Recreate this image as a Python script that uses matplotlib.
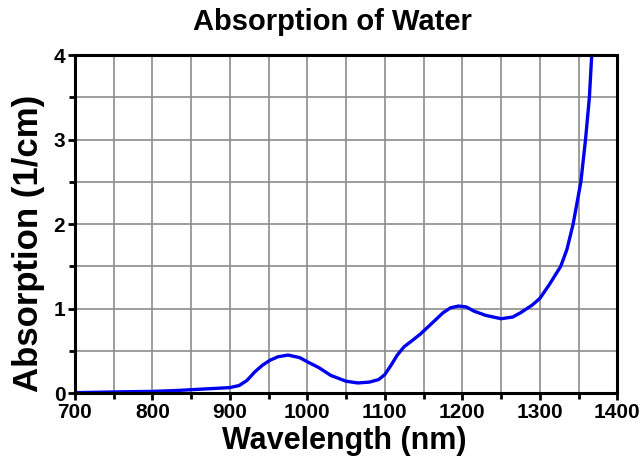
import matplotlib
matplotlib.use("Agg")
import matplotlib.pyplot as plt
from matplotlib.ticker import MultipleLocator

# absorption coefficient of water
wavelength = [700, 730, 760, 800, 830, 860, 900, 912, 922, 932, 942, 952, 962,
              975, 990, 1000, 1015, 1030, 1050, 1065, 1080, 1092, 1100, 1108,
              1116, 1125, 1135, 1146, 1160, 1175, 1185, 1195, 1205, 1215, 1230,
              1250, 1265, 1275, 1290, 1300, 1312, 1327, 1335, 1343, 1348, 1353,
              1359, 1364, 1367]
absorption = [0.005, 0.01, 0.015, 0.02, 0.03, 0.045, 0.065, 0.09, 0.15, 0.25,
              0.33, 0.39, 0.43, 0.45, 0.42, 0.37, 0.30, 0.21, 0.14, 0.12, 0.13,
              0.16, 0.22, 0.33, 0.45, 0.55, 0.62, 0.70, 0.82, 0.95, 1.01, 1.03,
              1.02, 0.97, 0.92, 0.88, 0.90, 0.95, 1.04, 1.12, 1.28, 1.5, 1.7,
              2.0, 2.25, 2.5, 3.0, 3.5, 4.0]

plt.rcParams['font.family'] = ['Liberation Sans', 'DejaVu Sans']
plt.rcParams['font.weight'] = 'bold'
plt.rcParams['xtick.labelsize'] = 15
plt.rcParams['ytick.labelsize'] = 15

fig = plt.figure(figsize=(6.41, 4.63), dpi=100)
ax = fig.add_axes([0.117, 0.151, 0.846, 0.730])

ax.plot(wavelength, absorption, color='#0000ee', lw=2.4, solid_capstyle='round')

ax.set_xlim(700, 1400)
ax.set_ylim(0, 4)
ax.xaxis.set_major_locator(MultipleLocator(100))
ax.xaxis.set_minor_locator(MultipleLocator(50))
ax.yaxis.set_major_locator(MultipleLocator(1))
ax.yaxis.set_minor_locator(MultipleLocator(0.5))
ax.grid(which='both', color='#8c8c8c', lw=1.2)
ax.set_axisbelow(True)

for sp in ax.spines.values():
    sp.set_linewidth(2.2)
ax.tick_params(which='major', direction='out', length=5, width=2, pad=2)
ax.tick_params(which='minor', direction='out', length=4, width=2)

fig.text(0.519, 0.953, 'Absorption of Water', fontsize=21, fontweight='bold',
         ha='center', va='center')
fig.text(0.537, 0.047, 'Wavelength (nm)', fontsize=22, fontweight='bold',
         ha='center', va='center')
fig.text(0.045, 0.475, 'Absorption (1/cm)', fontsize=25, fontweight='bold',
         ha='center', va='center', rotation=90)

fig.savefig('out.png', dpi=100)
